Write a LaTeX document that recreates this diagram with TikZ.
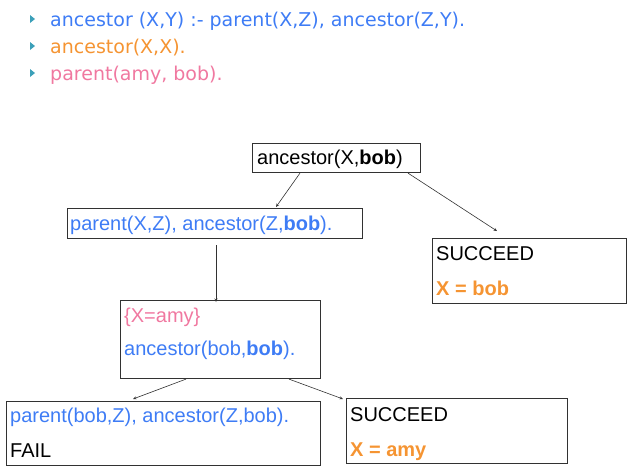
\documentclass[tikz,border=0pt]{standalone}
\usepackage{fontspec}
\setmainfont{Liberation Sans}
\newfontfamily\lucida{DejaVu Sans}
\usetikzlibrary{arrows.meta,calc}
\definecolor{cblue}{RGB}{62,124,245}
\definecolor{corange}{RGB}{245,148,50}
\definecolor{cpink}{RGB}{240,120,160}
\definecolor{cteal}{RGB}{60,160,185}
\definecolor{cline}{RGB}{50,50,50}
\begin{document}
\begin{tikzpicture}[x=1pt,y=-1pt,
  box/.style={draw=cline,line width=1.1pt,rectangle,anchor=north west,inner sep=0pt},
  txt/.style={anchor=base west,inner sep=0pt,font=\fontsize{20}{24}\selectfont},
  rule/.style={anchor=base west,inner sep=0pt,font=\lucida\fontsize{19}{23}\selectfont},
  conn/.style={draw=cline,line width=0.6pt,-{Stealth[length=3.5pt,width=3pt]}},
  bullet/.style={fill=cteal,draw=none}]
\useasboundingbox (0,0) rectangle (632,475);
% rules
\fill[bullet] (30,15) -- (35,19) -- (30,23) -- cycle;
\fill[bullet] (30,42) -- (35,46) -- (30,50) -- cycle;
\fill[bullet] (30,69) -- (35,73) -- (30,77) -- cycle;
\node[rule,text=cblue] (r1) at (50,26) {ancestor (X,Y) :- parent(X,Z), ancestor(Z,Y).};
\node[rule,text=corange] (r2) at (50,53) {ancestor(X,X).};
\node[rule,text=cpink] (r3) at (50,80) {parent(amy, bob).};
% boxes
\node[box,minimum width=168pt,minimum height=29pt] (root) at (252,143) {};
\node[box,minimum width=295pt,minimum height=30pt] (b2) at (67,208) {};
\node[box,minimum width=194pt,minimum height=65pt] (s1) at (432,238) {};
\node[box,minimum width=200pt,minimum height=78pt] (b3) at (120,300) {};
\node[box,minimum width=314pt,minimum height=64pt] (f) at (6,401) {};
\node[box,minimum width=221pt,minimum height=65pt] (s2) at (346,398) {};
% texts
\node[txt] (t1) at ($(root.north west)+(5,21)$) {ancestor(X,\textbf{bob})};
\node[txt,text=cblue] (t2) at ($(b2.north west)+(3,22)$) {parent(X,Z), ancestor(Z,\textbf{bob}).};
\node[txt] (t3) at ($(s1.north west)+(4,22)$) {SUCCEED};
\node[txt,text=corange] (t4) at ($(s1.north west)+(4,57)$) {\textbf{X = bob}};
\node[txt,text=cpink] (t5) at ($(b3.north west)+(4,22)$) {\{X=amy\}};
\node[txt,text=cblue] (t6) at ($(b3.north west)+(4,55)$) {ancestor(bob,\textbf{bob}).};
\node[txt,text=cblue] (t7) at ($(f.north west)+(4,21)$) {parent(bob,Z), ancestor(Z,bob).};
\node[txt] (t8) at ($(f.north west)+(4,56)$) {FAIL};
\node[txt] (t9) at ($(s2.north west)+(4,23)$) {SUCCEED};
\node[txt,text=corange] (t10) at ($(s2.north west)+(4,58)$) {\textbf{X = amy}};
% connectors
\draw[conn] ($(root.south west)+(48,0)$) -- ($(b2.north west)+(209,-1)$);
\draw[conn] ($(root.south west)+(156,0)$) -- ($(s1.north west)+(65,-7)$);
\draw[conn] ($(b2.south west)+(149,6)$) -- ($(b3.north west)+(96,2)$);
\draw[conn] ($(b3.south west)+(66,0)$) -- ($(f.north west)+(127,-2)$);
\draw[conn] ($(b3.south west)+(169,0)$) -- ($(s2.north west)+(-3,1)$);
\end{tikzpicture}
\end{document}
